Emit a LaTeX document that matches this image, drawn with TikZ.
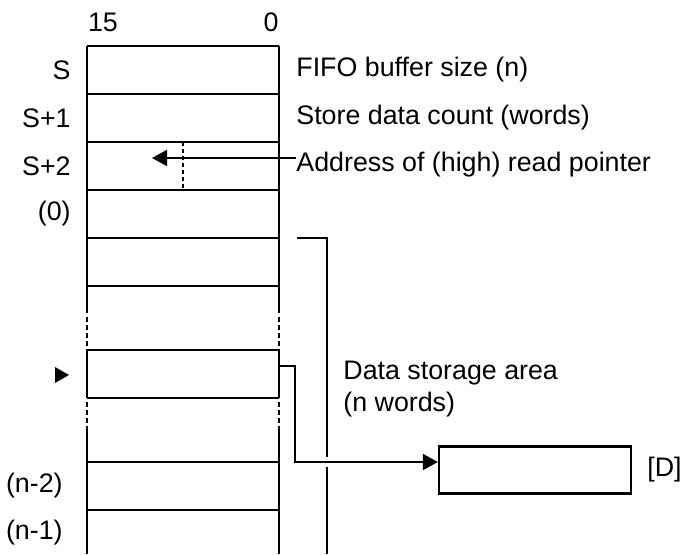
\documentclass[tikz,border=0pt]{standalone}
\usepackage{fontspec}
\setmainfont{Liberation Sans}
\usetikzlibrary{arrows.meta}
\tikzset{
  lbl/.style={font=\fontsize{13.4}{16}\selectfont, inner sep=0pt},
  regline/.style={line width=1.1pt},
  dotline/.style={line width=1.1pt, dash pattern=on 2.5pt off 1.5pt},
  thinline/.style={line width=0.9pt},
}
\begin{document}
\begin{tikzpicture}[x=0.5pt, y=-0.5pt, >={Triangle[length=7.5pt,width=8pt]}]
    % 1. Picture frame
    \useasboundingbox (0,0) rectangle (681,554);

    % 2. Word rows of the buffer
    \foreach \y in {46,94,142,190,238,286,350,398,462,510}
        \draw[regline] (87,\y) -- (279,\y);

    % 3. Side walls, broken by dotted parts
    \foreach \x in {87,279} {
        \draw[regline] (\x,46) -- (\x,313);
        \draw[dotline] (\x,317) -- (\x,350);
        \draw[regline] (\x,350) -- (\x,398);
        \draw[dotline] (\x,402) -- (\x,428);
        \draw[regline] (\x,428) -- (\x,554);
    }

    % 4. Bit numbers
    \node[lbl] (b15) at (103,22) {15};
    \node[lbl] (b0) at (271,22) {0};

    % 5. Row labels on the left
    \node[lbl, anchor=east] (rowS) at (71,70) {S};
    \node[lbl, anchor=east] (rowS1) at (71,118) {S+1};
    \node[lbl, anchor=east] (rowS2) at (71,166) {S+2};
    \node[lbl, anchor=east] (row0) at (71,214) {(0)};
    \node[lbl, anchor=east] (rowN2) at (63,486) {(n-2)};
    \node[lbl, anchor=east] (rowN1) at (63,533) {(n-1)};
    \fill (55,367) -- (69,375) -- (55,383) -- cycle;

    % 6. Descriptions on the right
    \node[lbl, anchor=west] (size) at (296,70) {FIFO buffer size (n)};
    \node[lbl, anchor=west] (count) at (296,118) {Store data count (words)};
    \node[lbl, anchor=west] (addr) at (296,165) {Address of (high) read pointer};

    % 7. Read pointer
    \coordinate (rp) at (152,158);
    \draw[dotline, line width=0.9pt, dash pattern=on 2pt off 1.5pt] (183,142) -- (183,190);
    \draw[thinline, ->] (addr.west |- rp) -- (rp);

    % 8. Data storage area bracket
    \draw[thinline] (297,238) -- (327,238) -- (327,457);
    \draw[thinline] (327,467) -- (327,554);
    \node[lbl, anchor=west, align=left] (area) at (343,389)
        {Data storage area\\(n words)};

    % 9. Read out to [D]
    \node[draw, regline, minimum width=96pt, minimum height=23.5pt, inner sep=0pt] (dbox) at (535,470) {};
    \node[lbl, anchor=west] (dlbl) at (647,470) {[D]};
    \coordinate (out) at (279,366);
    \coordinate (dst) at (dbox.west |- 0,462);
    \draw[thinline, ->] (out) -- (295,366) -- (295,462) -- (dst);
\end{tikzpicture}
\end{document}
